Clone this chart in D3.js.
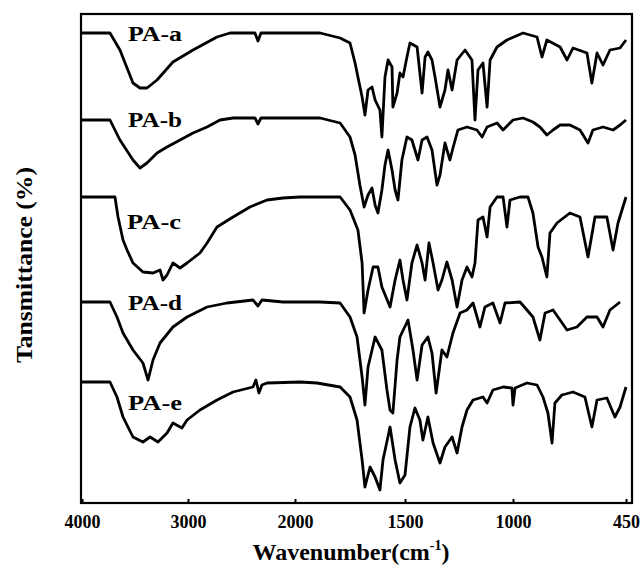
<!DOCTYPE html>
<html>
<head>
<meta charset="utf-8">
<script src="https://cdn.jsdelivr.net/npm/d3@7"></script>
<style>
  body { margin: 0; background: #fff; }
  text { font-family: "Liberation Serif", "Times New Roman", serif; font-weight: bold; }
</style>
</head>
<body>
<svg width="640" height="573"></svg>
<script>
// wavenumber (cm-1), stacked transmittance (arbitrary units)
var tickValues = [4000, 3000, 2000, 1500, 1000, 450];
var tickLabels = ['4000', '3000', '2000', '1500', '1000', '450'];

var seriesNames = ['PA-a', 'PA-b', 'PA-c', 'PA-d', 'PA-e'];
var labelWn = [3566, 3566, 3575, 3566, 3566];
var labelT = [462, 376, 274, 193, 93];

var paA = [[4000,470],[3736,470],[3642,453],[3519,420],[3453,415],[3387,415],[3292,423],[3142,441],[2953,453],[2729,466],[2607,470],[2374,470],[2346,462],[2318,470],[1886,470],[1795,465],[1750,460],[1727,440],[1714,426],[1695,406],[1682,388],[1668,413],[1650,416],[1636,403],[1614,393],[1605,366],[1591,426],[1577,443],[1559,436],[1555,396],[1536,410],[1523,430],[1509,426],[1491,446],[1477,460],[1444,456],[1421,410],[1407,446],[1394,451],[1375,443],[1361,426],[1338,396],[1315,413],[1301,433],[1282,413],[1259,443],[1222,453],[1190,443],[1176,383],[1162,433],[1139,440],[1120,396],[1106,443],[1074,456],[1028,463],[951,470],[883,466],[859,446],[835,463],[771,456],[737,443],[708,455],[640,450],[616,420],[591,450],[562,438],[528,453],[479,455],[450,463]];

var paB = [[4000,383],[3736,383],[3642,363],[3519,343],[3453,335],[3387,340],[3292,350],[3198,356],[3075,363],[2953,370],[2822,376],[2701,383],[2579,385],[2374,385],[2346,379],[2318,385],[1886,385],[1795,380],[1750,366],[1727,348],[1705,318],[1686,296],[1668,308],[1650,315],[1636,298],[1623,290],[1605,313],[1591,338],[1577,353],[1559,333],[1545,313],[1532,303],[1514,343],[1491,366],[1468,363],[1440,343],[1421,363],[1398,366],[1375,353],[1352,318],[1338,328],[1315,360],[1292,343],[1278,355],[1255,373],[1213,376],[1167,373],[1143,366],[1120,376],[1074,380],[1046,373],[1000,383],[951,385],[903,381],[869,376],[835,368],[805,373],[771,378],[723,378],[674,373],[635,360],[611,373],[562,376],[513,373],[479,378],[450,383]];

var paC = [[4000,306],[3689,306],[3660,286],[3613,263],[3575,253],[3519,240],[3425,231],[3330,230],[3264,233],[3236,223],[3198,228],[3142,240],[3075,235],[3009,240],[2888,250],[2822,260],[2729,276],[2579,286],[2421,296],[2262,303],[2112,305],[1977,306],[1795,306],[1750,293],[1714,273],[1695,240],[1686,190],[1668,213],[1645,236],[1623,236],[1605,216],[1568,196],[1545,223],[1523,243],[1509,223],[1491,203],[1468,240],[1444,258],[1421,240],[1407,223],[1389,260],[1370,240],[1347,213],[1329,223],[1306,241],[1282,223],[1259,196],[1236,223],[1213,236],[1190,226],[1176,240],[1162,283],[1139,286],[1120,266],[1106,296],[1074,306],[1046,306],[1028,276],[1014,303],[966,306],[927,306],[903,290],[878,256],[859,246],[835,226],[820,270],[786,280],[723,290],[674,286],[635,246],[601,286],[543,286],[513,253],[489,280],[450,306]];

var paD = [[4000,201],[3736,201],[3670,186],[3613,170],[3519,153],[3425,140],[3377,123],[3330,143],[3264,160],[3142,176],[3009,186],[2822,196],[2636,200],[2393,203],[2346,197],[2309,203],[2112,201],[1886,201],[1795,200],[1750,186],[1718,166],[1695,126],[1682,98],[1668,136],[1636,166],[1605,153],[1582,113],[1568,93],[1555,90],[1536,143],[1523,166],[1486,183],[1463,153],[1444,123],[1421,158],[1394,166],[1375,150],[1356,110],[1329,153],[1306,146],[1278,170],[1245,190],[1213,193],[1185,200],[1153,176],[1130,196],[1093,200],[1060,180],[1037,200],[966,201],[932,193],[903,186],[869,163],[844,190],[805,193],[771,183],[737,173],[689,176],[640,186],[591,186],[562,176],[528,193],[479,201]];

var paE = [[4000,121],[3736,121],[3670,106],[3613,86],[3519,66],[3425,61],[3358,66],[3283,61],[3198,70],[3142,80],[3057,75],[3009,83],[2888,93],[2729,103],[2579,111],[2393,116],[2365,123],[2337,110],[2309,118],[2262,120],[1977,121],[1900,120],[1795,116],[1750,106],[1718,83],[1695,43],[1682,16],[1659,36],[1636,26],[1614,13],[1600,43],[1568,76],[1545,43],[1523,20],[1500,28],[1477,76],[1454,95],[1431,83],[1417,63],[1394,86],[1370,60],[1338,40],[1315,56],[1282,66],[1259,50],[1236,76],[1213,93],[1185,103],[1139,106],[1120,100],[1093,113],[1046,116],[1005,115],[1000,98],[990,115],[932,120],[883,118],[854,106],[830,90],[810,60],[796,100],[762,108],[708,111],[650,106],[616,76],[591,103],[543,105],[504,86],[479,96],[450,116]];

var allSeries = [paA, paB, paC, paD, paE];

var svg = d3.select('svg');
var frame = { left: 81, top: 14, right: 632, bottom: 503 };

// broken wavenumber axis: every labelled interval gets roughly the same width
var x = d3.scaleLinear()
    .domain(tickValues)
    .range([82, 188, 295, 405, 513, 626]);

var y = d3.scaleLinear()
    .domain([0, 489])
    .range([frame.bottom, frame.top]);

var line = d3.line()
    .x(function (d) { return x(d[0]); })
    .y(function (d) { return y(d[1]); });

svg.selectAll('.spectrum')
    .data(allSeries)
    .enter().append('path')
    .attr('class', 'spectrum')
    .attr('d', line)
    .attr('fill', 'none')
    .attr('stroke', '#000')
    .attr('stroke-width', 2.8)
    .attr('stroke-linejoin', 'round');

svg.selectAll('.curve-label')
    .data(seriesNames)
    .enter().append('text')
    .attr('class', 'curve-label')
    .attr('x', function (d, i) { return x(labelWn[i]); })
    .attr('y', function (d, i) { return y(labelT[i]); })
    .attr('font-size', 20)
    .attr('textLength', 54)
    .attr('lengthAdjust', 'spacingAndGlyphs')
    .text(function (d) { return d; });

var xAxis = d3.axisBottom(x)
    .tickValues(tickValues)
    .tickFormat(function (d, i) { return tickLabels[i]; })
    .tickSize(-4)
    .tickPadding(12);

var gx = svg.append('g')
    .attr('transform', 'translate(0,' + frame.bottom + ')')
    .call(xAxis);
gx.select('.domain').remove();
gx.selectAll('line').attr('stroke', '#000').attr('stroke-width', 2);
gx.selectAll('text')
    .attr('font-size', 18)
    .attr('fill', '#000')
    .style('font-family', '"Liberation Serif", serif')
    .style('font-weight', 'bold');

svg.append('rect')
    .attr('x', frame.left)
    .attr('y', frame.top)
    .attr('width', frame.right - frame.left)
    .attr('height', frame.bottom - frame.top)
    .attr('fill', 'none')
    .attr('stroke', '#000')
    .attr('stroke-width', 2.2);

var title = svg.append('text')
    .attr('x', 351)
    .attr('y', 560)
    .attr('text-anchor', 'middle')
    .attr('font-size', 24);
title.append('tspan').text('Wavenumber(cm');
title.append('tspan').attr('font-size', 14).attr('dy', -10).text('-1');
title.append('tspan').attr('dy', 10).text(')');

svg.append('text')
    .attr('transform', 'translate(32,265) rotate(-90)')
    .attr('text-anchor', 'middle')
    .attr('font-size', 24)
    .attr('textLength', 196)
    .attr('lengthAdjust', 'spacingAndGlyphs')
    .text('Tansmittance (%)');
</script>
</body>
</html>
